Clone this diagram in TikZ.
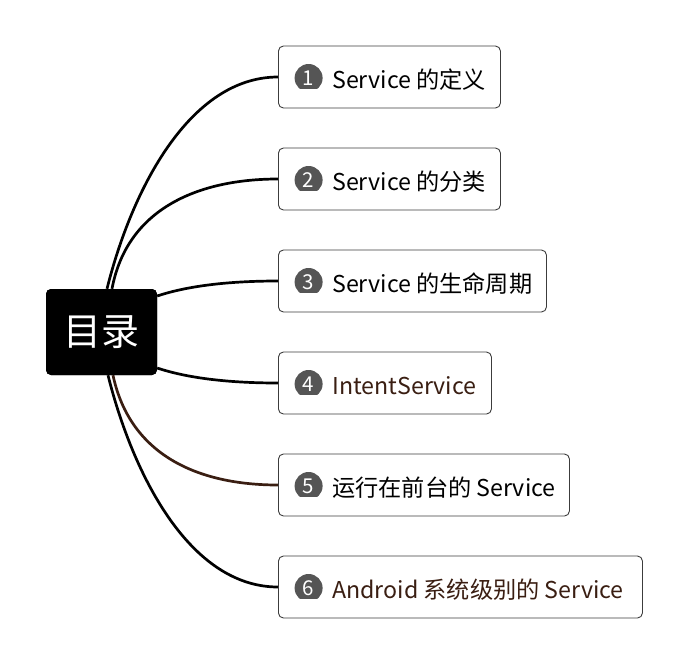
\documentclass[tikz,border=0pt]{standalone}
\usepackage{fontspec}
\setmainfont{Noto Sans CJK SC}
\usetikzlibrary{calc}
\definecolor{brn}{RGB}{58,30,18}
\definecolor{badgegray}{RGB}{85,85,85}
\definecolor{boxline}{RGB}{60,60,60}
\begin{document}
\begin{tikzpicture}[x=1pt,y=-1pt,
  rootbox/.style={fill=black, rounded corners=5pt, minimum width=111pt, minimum height=86pt, inner sep=0pt, text=white, font=\fontsize{38}{40}\selectfont},
  box/.style={draw=boxline, line width=0.9pt, rounded corners=5pt, fill=white, minimum height=62pt, anchor=west, inner sep=0pt},
  lbl/.style={anchor=base west, inner sep=0pt, font=\fontsize{23.2}{26}\selectfont},
  num/.style={text=white, font=\fontsize{20.5}{21}\selectfont, inner sep=0pt},
  conn/.style={line width=2.7pt, draw=black}]
\useasboundingbox (0,0) rectangle (691,667);

\coordinate (r) at (101.5,332);
\node[rootbox] (root) at (r) {目录};
\node[box, minimum width=222pt] (b1) at (278,77) {};
\node[box, minimum width=222pt] (b2) at (278,179) {};
\node[box, minimum width=268pt] (b3) at (278,281) {};
\node[box, minimum width=213pt] (b4) at (278,383) {};
\node[box, minimum width=291pt] (b5) at (278,485) {};
\node[box, minimum width=364pt] (b6) at (278,587) {};

\draw[conn] ($(root.north)+(5.5,0)$) .. controls +(25,-100) and +(-88,0) .. (b1.west);
\draw[conn] ($(root.north)+(10.5,0)$) .. controls +(15,-80) and +(-80,0) .. (b2.west);
\draw[conn] ($(root.east)+(0,-36)$) .. controls +(30,-10) and +(-50,0) .. (b3.west);
\draw[conn] ($(root.east)+(0,36)$) .. controls +(30,10) and +(-50,0) .. (b4.west);
\draw[conn, draw=brn] ($(root.south)+(11.5,0)$) .. controls +(17,80) and +(-80,0) .. (b5.west);
\draw[conn] ($(root.south)+(6.5,0)$) .. controls +(25,100) and +(-88,0) .. (b6.west);

% root on top of connector ends
\node[rootbox] at (r) {目录};

% badges and labels
\foreach \i/\yc in {1/77,2/179,3/281,4/383,5/485,6/587}{
  \begin{scope}
    \clip (293,\yc-14) rectangle (324,\yc+11.7);
    \fill[badgegray] (308.6,\yc+1) circle[radius=14];
  \end{scope}
  \node[num] (n\i) at (308.6,\yc+1.2) {\i};
}
\node[lbl] (t1) at (332,88.5) {Service 的定义};
\node[lbl] (t2) at (332,190.5) {Service 的分类};
\node[lbl] (t3) at (332,292.5) {Service 的生命周期};
\node[lbl, text=brn] (t4) at (332,394.5) {IntentService};
\node[lbl] (t5) at (332,496.5) {运行在前台的 Service};
\node[lbl, text=brn] (t6) at (332,598.5) {Android 系统级别的 Service};
\end{tikzpicture}
\end{document}
